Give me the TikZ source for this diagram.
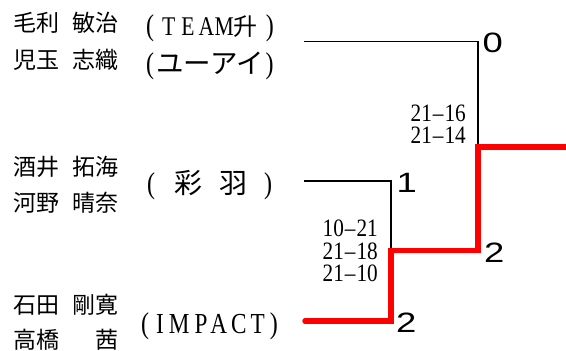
\documentclass[tikz,border=0pt]{standalone}
\usepackage{fontspec}
\newfontfamily\jpfont{Noto Sans CJK JP}
\newfontfamily\latfont[FakeStretch=0.8]{Liberation Serif}
\newfontfamily\scorefont[FakeStretch=0.85]{Liberation Serif}
\newfontfamily\numfont[FakeStretch=1.3]{Liberation Sans}
\newcommand\pname[2]{#1\hspace{13pt}#2}
\newcommand\lp{{\fontsize{30}{30}\selectfont(}}
\newcommand\rp{{\fontsize{30}{30}\selectfont)}}
\tikzset{
  pname/.style={anchor=base west, inner sep=0pt, font=\jpfont\fontsize{23}{23}\selectfont},
  team/.style={anchor=base west, inner sep=0pt, font=\latfont\fontsize{27}{27}\selectfont},
  score/.style={anchor=north east, align=right, inner sep=0pt},
  res/.style={anchor=base west, inner sep=0pt, font=\numfont\fontsize{28}{28}\selectfont},
  thinline/.style={draw=black, line width=1.2pt},
  winline/.style={draw=red, line width=5.5pt, line cap=round, line join=miter},
}
\newcommand\dash{\hspace{1pt}–\hspace{1pt}}
\begin{document}
\begin{tikzpicture}[x=1pt,y=-1pt]
\useasboundingbox (0,0) rectangle (566,351);
% players
\node[pname] (p1a) at (13.5,31.5) {\pname{毛利}{敏治}};
\node[pname] (p1b) at (13.5,68.5) {\pname{児玉}{志織}};
\node[pname] (p2a) at (13.5,175.5) {\pname{酒井}{拓海}};
\node[pname] (p2b) at (13.5,211.5) {\pname{河野}{晴奈}};
\node[pname] (p3a) at (13.5,313.5) {\pname{石田}{剛寛}};
\node[pname] (p3b) at (13.5,348) {高橋\hspace{36pt}茜};
% teams
\node[team] (t1a) at (146,35) {\lp\hspace{8pt}T\hspace{6pt}E\hspace{4pt}A\hspace{0.5pt}M{\jpfont\fontsize{24}{24}\selectfont 升}\hspace{8pt}\rp};
\node[team] (t1b) at (146,73) {\lp\hspace{2pt}{\jpfont\fontsize{27.5}{27.5}\selectfont ユーアイ}\hspace{2pt}\rp};
\node[team] (t2) at (147,193) {\lp\hspace{19pt}{\jpfont\fontsize{28}{28}\selectfont 彩\hspace{17pt}羽}\hspace{17pt}\rp};
\node[team, font=\latfont\fontsize{29}{29}\selectfont] (t3) at (141,333) {\lp\hspace{7pt}I\hspace{5pt}M\hspace{5pt}P\hspace{3pt}A\hspace{4pt}C\hspace{4pt}T\hspace{5pt}\rp};
% bracket points
\coordinate (a1) at (304,41.3);
\coordinate (j1) at (478,41.3);
\coordinate (a2) at (304,181);
\coordinate (j2) at (391,181);
\coordinate (a3) at (305,321);
\coordinate (m3) at (391,321);
\coordinate (m2) at (391,250.5);
\coordinate (m1) at (478,250.5);
\coordinate (f1) at (478,147);
\coordinate (fin) at (566,147);
% lines
\draw[thinline] (a1) -- (j1) -- (f1);
\draw[thinline] (a2) -- (j2) -- (m2);
\draw[winline] (a3) -- (m3) -- (m2) -- (m1) -- (f1) -- (fin);
% scores
\node[score, font=\scorefont\fontsize{25}{21.5}\selectfont] (s1) at (466,105) {21\dash16\\21\dash14};
\node[score, font=\scorefont\fontsize{25}{22.5}\selectfont] (s2) at (378,220) {10\dash21\\21\dash18\\21\dash10};
% results
\node[res] (r1) at (482.5,52.5) {0};
\node[res] (r2) at (396.5,192.5) {1};
\node[res] (r3) at (484,262.5) {2};
\node[res] (r4) at (396,332.5) {2};
\end{tikzpicture}
\end{document}
